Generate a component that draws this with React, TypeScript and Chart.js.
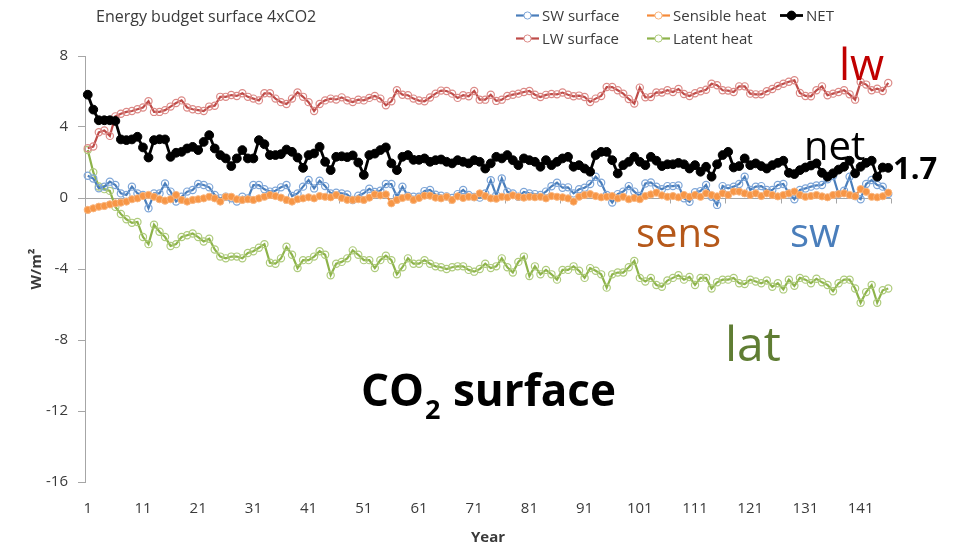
import React, { useEffect, useRef } from 'react';
import { Chart, registerables } from 'chart.js';

Chart.register(...registerables);

// ---- data (W/m², annual means) ----
const YEAR_COUNT = 146;
const years: string[] = Array.from({ length: YEAR_COUNT }, (_, i) => String(i + 1));

const swSurface = [
  1.25, 1.1, 0.55, 0.64, 0.92, 0.73, 0.26, 0.17, 0.64, 0.26,
  0.17, -0.58, 0.26, 0.26, 0.82, 0.36, -0.2, 0.07, 0.36, 0.45,
  0.79, 0.73, 0.6, 0.17, -0.02, 0.07, -0.02, -0.2, 0.07, -0.02,
  0.73, 0.73, 0.49, 0.36, 0.41, 0.6, 0.73, 0.11, 0.26, 0.64,
  1.01, 0.54, 0.97, 0.67, 0.26, 0.3, 0.26, 0.2, -0.11, 0.13,
  0.26, 0.52, 0.34, 0.41, 0.79, 0.79, 0.07, 0.64, 0.11, 0.07,
  0.07, 0.39, 0.45, 0.19, 0.13, 0.09, 0.0, 0.22, 0.45, 0.17,
  0.06, 0.02, 0.25, 1.0, 0.15, 1.1, 0.35, 0.26, 0.07, 0.34,
  0.26, 0.22, 0.17, 0.36, 0.66, 0.86, 0.58, 0.6, 0.26, 0.49,
  0.58, 0.79, 1.2, 0.86, 0.17, -0.26, 0.22, 0.36, 0.67, 0.36,
  0.11, 0.82, 0.88, 0.64, 0.49, 0.67, 0.67, 0.71, -0.02, -0.21,
  0.32, 0.39, 0.73, 0.07, -0.39, 0.67, 0.54, 0.64, 0.79, 1.2,
  0.45, 0.64, 0.67, 0.45, 0.45, 0.73, 0.79, 0.26, -0.07, 0.45,
  0.54, 0.64, 0.71, 0.73, 1.05, 1.24, 0.22, 0.41, 1.2, 0.11,
  -0.07, 0.79, 1.01, 0.73, 0.64, 0.22,
];

const lwSurface = [
  2.8, 2.9, 3.7, 3.8, 3.5, 4.6, 4.75, 4.85, 4.9, 5.0,
  5.1, 5.45, 4.85, 4.85, 4.95, 5.15, 5.35, 5.5, 5.1, 5.0,
  4.95, 4.9, 5.15, 5.2, 5.7, 5.7, 5.8, 5.75, 5.9, 5.7,
  5.6, 5.5, 5.9, 5.9, 5.6, 5.4, 5.3, 5.6, 5.95, 5.7,
  5.4, 4.9, 5.3, 5.5, 5.6, 5.55, 5.67, 5.5, 5.41, 5.54,
  5.5, 5.64, 5.75, 5.6, 5.22, 5.45, 6.07, 5.82, 5.79, 5.6,
  5.49, 5.45, 5.66, 5.88, 6.05, 6.03, 5.88, 5.64, 5.79, 5.73,
  6.03, 5.54, 5.54, 5.82, 5.47, 5.54, 5.75, 5.82, 5.88, 5.97,
  6.03, 5.82, 5.69, 5.81, 5.86, 5.84, 5.94, 5.82, 5.73, 5.77,
  5.69, 5.41, 5.6, 5.75, 6.25, 6.25, 6.07, 5.88, 5.58, 5.32,
  6.22, 5.67, 5.69, 5.95, 5.94, 6.07, 5.97, 6.14, 5.86, 5.75,
  5.9, 6.01, 6.1, 6.44, 6.35, 6.07, 6.05, 5.97, 6.29, 6.29,
  5.88, 5.84, 5.84, 6.01, 6.14, 6.31, 6.44, 6.55, 6.63, 5.92,
  5.75, 5.73, 6.07, 6.29, 5.79, 5.88, 5.97, 6.07, 5.84, 5.54,
  6.54, 6.39, 6.07, 6.16, 6.03, 6.48,
];

const sensibleHeat = [
  -0.67, -0.58, -0.49, -0.45, -0.36, -0.3, -0.26, -0.2, -0.07, -0.02,
  0.11, 0.17, 0.07, -0.07, -0.15, -0.07, 0.17, -0.11, -0.2, -0.11,
  -0.07, -0.02, 0.07, -0.02, -0.2, 0.07, 0.07, -0.07, -0.11, -0.07,
  -0.11, -0.02, 0.07, 0.17, 0.11, 0.02, -0.11, -0.2, -0.07, -0.02,
  0.04, -0.02, 0.11, 0.07, 0.04, 0.17, 0.0, -0.1, -0.11, -0.07,
  -0.11, 0.02, 0.2, 0.15, 0.2, -0.3, -0.11, 0.0, 0.07, -0.11,
  0.0, 0.13, 0.13, 0.02, -0.02, 0.07, -0.11, 0.09, 0.0, 0.07,
  0.04, 0.26, 0.11, -0.02, -0.04, 0.07, 0.04, 0.15, 0.07, 0.02,
  0.07, 0.04, 0.07, -0.02, 0.11, 0.07, 0.04, -0.02, -0.2, 0.07,
  0.17, 0.22, 0.11, 0.04, 0.07, 0.11, -0.02, 0.07, -0.07, 0.0,
  -0.07, 0.11, 0.2, 0.3, 0.15, 0.07, 0.11, 0.04, 0.17, 0.07,
  0.17, 0.07, 0.26, 0.17, 0.09, 0.26, 0.17, 0.36, 0.36, 0.26,
  0.17, 0.26, 0.11, 0.26, 0.17, 0.09, 0.17, 0.26, 0.36, 0.17,
  0.07, 0.11, 0.17, 0.09, 0.04, 0.17, 0.22, 0.26, 0.17, 0.1,
  0.5, 0.35, 0.07, 0.04, 0.1, 0.3,
];

const latentHeat = [
  2.7, 1.45, 0.65, 0.5, 0.4, -0.5, -0.9, -1.2, -1.4, -1.35,
  -2.2, -2.6, -1.5, -1.9, -2.2, -2.7, -2.6, -2.2, -2.1, -2.0,
  -2.2, -2.45, -2.3, -2.9, -3.3, -3.4, -3.3, -3.3, -3.4, -3.1,
  -3.0, -2.8, -2.6, -3.65, -3.7, -3.4, -2.75, -3.2, -3.95, -3.5,
  -3.5, -3.3, -3.0, -3.2, -4.35, -3.7, -3.6, -3.4, -2.95, -3.2,
  -3.5, -3.5, -3.95, -3.5, -3.25, -3.5, -4.3, -3.9, -3.4, -3.7,
  -3.7, -3.5, -3.7, -3.85, -3.9, -4.0, -3.9, -3.85, -3.85, -4.05,
  -4.15, -4.0, -3.7, -3.95, -3.85, -3.4, -3.9, -4.2, -3.6, -3.3,
  -4.4, -3.85, -4.3, -4.05, -4.3, -4.6, -4.05, -4.05, -3.85, -4.1,
  -4.5, -3.95, -4.1, -4.3, -5.05, -4.3, -4.2, -4.2, -3.9, -3.55,
  -4.5, -4.7, -4.5, -4.9, -5.0, -4.65, -4.5, -4.35, -4.6, -4.45,
  -4.9, -4.5, -4.5, -5.1, -4.75, -4.6, -4.6, -4.5, -4.8, -4.85,
  -4.6, -4.7, -4.8, -4.65, -5.0, -4.8, -5.15, -4.6, -4.95, -4.5,
  -4.6, -4.8, -4.55, -4.75, -4.9, -5.25, -4.8, -4.6, -4.6, -5.1,
  -5.9, -5.3, -4.9, -5.9, -5.2, -5.1,
];

const netFlux = [
  5.82, 4.98, 4.38, 4.38, 4.38, 4.34, 3.3, 3.26, 3.3, 3.45,
  2.85, 2.28, 3.26, 3.31, 3.3, 2.32, 2.55, 2.6, 2.79, 2.88,
  2.7, 3.16, 3.54, 2.79, 2.42, 2.23, 1.8, 2.23, 2.7, 2.23,
  2.23, 3.26, 3.03, 2.42, 2.42, 2.47, 2.73, 2.6, 2.28, 1.7,
  2.42, 2.51, 2.88, 2.04, 1.57, 2.32, 2.35, 2.3, 2.4, 2.0,
  1.3, 2.42, 2.5, 2.7, 2.85, 1.95, 1.57, 2.32, 2.42, 2.15,
  2.15, 2.23, 2.04, 2.13, 2.17, 2.04, 1.95, 2.13, 2.04, 1.95,
  2.13, 2.04, 1.66, 1.95, 2.32, 2.23, 2.42, 2.13, 1.85, 2.23,
  2.13, 2.04, 1.76, 2.13, 1.85, 2.04, 2.23, 2.32, 1.76, 1.85,
  1.66, 1.48, 2.42, 2.6, 2.6, 2.13, 1.38, 1.85, 2.04, 2.32,
  2.04, 1.85, 2.32, 2.1, 1.8, 1.9, 1.9, 1.98, 1.9, 1.66,
  1.85, 1.48, 1.76, 1.2, 1.9, 2.42, 2.6, 1.72, 1.8, 2.23,
  1.85, 1.95, 1.8, 1.66, 1.85, 1.98, 2.1, 1.42, 1.35, 1.57,
  1.72, 1.83, 1.95, 1.42, 1.2, 1.39, 1.6, 1.76, 2.1, 1.39,
  1.76, 1.98, 2.1, 1.2, 1.72, 1.7,
];

const yTickValues = [8, 4, 0, -4, -8, -12, -16];
const X_LABEL_STEP = 10;

const FONT = '"Open Sans", "DejaVu Sans", sans-serif';
const AXIS_GREY = '#a6a6a6';
const TEXT_GREY = '#3a3a3a';

// legend grid: [column, row] for each dataset
const legendSlots: [number, number][] = [
  [0, 0], // SW surface
  [0, 1], // LW surface
  [1, 0], // Sensible heat
  [1, 1], // Latent heat
  [2, 0], // NET
];
const legendColX = [516, 647, 780];
const legendRowY = [15.5, 38.5];

function drawText(
  ctx: CanvasRenderingContext2D,
  text: string,
  x: number,
  y: number,
  size: number,
  color: string,
  weight = 'normal'
): number {
  ctx.font = `${weight} ${size}px ${FONT}`;
  ctx.fillStyle = color;
  ctx.textAlign = 'left';
  ctx.textBaseline = 'alphabetic';
  ctx.fillText(text, x, y);
  return ctx.measureText(text).width;
}

// small tick marks hanging below the zero line, every ten years
const zeroLineTicks = {
  id: 'zeroLineTicks',
  beforeDatasetsDraw(chart: any) {
    const { ctx } = chart;
    const xs = chart.scales.x;
    const y0 = Math.round(chart.scales.y.getPixelForValue(0)) + 0.5;
    ctx.save();
    ctx.strokeStyle = AXIS_GREY;
    ctx.lineWidth = 1;
    for (let m = 6; m <= years.length; m += X_LABEL_STEP) {
      const px = Math.round(xs.getPixelForValue(m - 0.5)) + 0.5;
      ctx.beginPath();
      ctx.moveTo(px, y0);
      ctx.lineTo(px, y0 + 5);
      ctx.stroke();
    }
    ctx.restore();
  },
};

// title, legend and labels around the plot
const chartDecorations = {
  id: 'chartDecorations',
  afterDraw(chart: any) {
    const { ctx } = chart;
    const ys = chart.scales.y;
    ctx.save();

    drawText(ctx, 'Energy budget surface 4xCO2', 96, 22, 16, TEXT_GREY);

    chart.data.datasets.forEach((ds: any, i: number) => {
      const [col, row] = legendSlots[i];
      const x = legendColX[col];
      const y = legendRowY[row];
      ctx.strokeStyle = ds.borderColor;
      ctx.lineWidth = ds.borderWidth;
      ctx.beginPath();
      ctx.moveTo(x, y);
      ctx.lineTo(x + 23, y);
      ctx.stroke();
      ctx.beginPath();
      ctx.arc(x + 11.5, y, ds.pointRadius, 0, Math.PI * 2);
      ctx.fillStyle = ds.label === 'NET' ? ds.pointBackgroundColor : '#ffffff';
      ctx.fill();
      ctx.lineWidth = 1;
      ctx.strokeStyle = ds.pointBorderColor;
      ctx.stroke();
      drawText(ctx, ds.label, x + 26, y + 5.5, 15, TEXT_GREY);
    });

    drawText(ctx, 'lw', 839, 80, 44, '#c00000');
    drawText(ctx, 'net', 804, 160, 40, '#000000');
    drawText(ctx, 'sens', 636, 247, 40, '#b5581a');
    drawText(ctx, 'sw', 790, 247, 40, '#4a7ebb');
    drawText(ctx, 'lat', 725, 361, 48, '#5f7d33');

    const lastNet = netFlux[netFlux.length - 1];
    drawText(ctx, lastNet.toFixed(1), 893, ys.getPixelForValue(lastNet) + 11, 31, '#000000', 'bold');

    let cx = 361;
    cx += drawText(ctx, 'CO', cx, 406, 44, '#000000', 'bold');
    cx += drawText(ctx, '2', cx + 1, 419, 27, '#000000', 'bold') + 2;
    drawText(ctx, ' surface', cx, 406, 44, '#000000', 'bold');

    ctx.restore();
  },
};

function hollowSeries(label: string, data: number[], line: string, marker: string, order: number) {
  return {
    label,
    data,
    borderColor: line,
    borderWidth: 2.2,
    pointRadius: 3.6,
    pointBorderWidth: 1.2,
    pointBorderColor: marker,
    pointBackgroundColor: 'rgba(255,255,255,0)',
    tension: 0,
    clip: false as const,
    order,
  };
}

export default function App() {
  const canvasRef = useRef<HTMLCanvasElement | null>(null);

  useEffect(() => {
    const canvas = canvasRef.current;
    if (!canvas) return;
    Chart.defaults.font.family = FONT;

    const chart = new Chart(canvas, {
      type: 'line',
      data: {
        labels: years,
        datasets: [
          hollowSeries('SW surface', swSurface, '#4a7ebb', '#7ea6d8', 3),
          hollowSeries('LW surface', lwSurface, '#be4b48', '#dc8a87', 4),
          {
            label: 'Sensible heat',
            data: sensibleHeat,
            borderColor: '#f58a3a',
            borderWidth: 2.2,
            pointRadius: 3.6,
            pointBorderWidth: 1,
            pointBorderColor: '#f9b47c',
            pointBackgroundColor: '#f79646',
            tension: 0,
            clip: false as const,
            order: 2,
          },
          hollowSeries('Latent heat', latentHeat, '#8db34a', '#aecb7c', 5),
          {
            label: 'NET',
            data: netFlux,
            borderColor: '#000000',
            borderWidth: 2.8,
            pointRadius: 4.4,
            pointBorderWidth: 1,
            pointBorderColor: '#000000',
            pointBackgroundColor: '#000000',
            tension: 0,
            clip: false as const,
            order: 0,
          },
        ],
      },
      options: {
        animation: false,
        responsive: false,
        events: [],
        layout: { padding: { top: 56, right: 68, bottom: 3, left: 24 } },
        plugins: {
          legend: { display: false },
          title: { display: false },
          tooltip: { enabled: false },
        },
        scales: {
          x: {
            type: 'category',
            offset: true,
            grid: { display: false, drawTicks: false },
            border: { display: false },
            ticks: {
              autoSkip: false,
              maxRotation: 0,
              minRotation: 0,
              padding: 18,
              color: TEXT_GREY,
              font: { size: 15 },
              callback: (_v: any, index: number) =>
                index % X_LABEL_STEP === 0 ? years[index] : null,
            },
            title: {
              display: true,
              text: 'Year',
              color: TEXT_GREY,
              font: { size: 15, weight: 'bold' },
              padding: { top: 0, bottom: 0 },
            },
            afterFit: (s: any) => {
              s.height = 65;
            },
          },
          y: {
            min: -16,
            max: 8,
            afterBuildTicks: (s: any) => {
              s.ticks = yTickValues.map((v) => ({ value: v }));
            },
            ticks: { padding: 10, color: TEXT_GREY, font: { size: 15 } },
            grid: {
              color: (c: any) => (c.tick && c.tick.value === 0 ? AXIS_GREY : 'rgba(0,0,0,0)'),
              tickColor: AXIS_GREY,
              tickLength: 7,
              drawTicks: true,
            },
            border: { display: true, color: AXIS_GREY, width: 1 },
            title: {
              display: true,
              text: 'W/m²',
              color: TEXT_GREY,
              font: { size: 15, weight: 'bold' },
              padding: { top: 4, bottom: 4 },
            },
            afterFit: (s: any) => {
              s.width = 61;
            },
          },
        },
      },
      plugins: [zeroLineTicks, chartDecorations],
    });

    return () => chart.destroy();
  }, []);

  return (
    <div style={{ position: 'absolute', left: 0, top: 0, width: 959, height: 550, background: '#ffffff' }}>
      <canvas ref={canvasRef} width={959} height={550} style={{ display: 'block' }} />
    </div>
  );
}
